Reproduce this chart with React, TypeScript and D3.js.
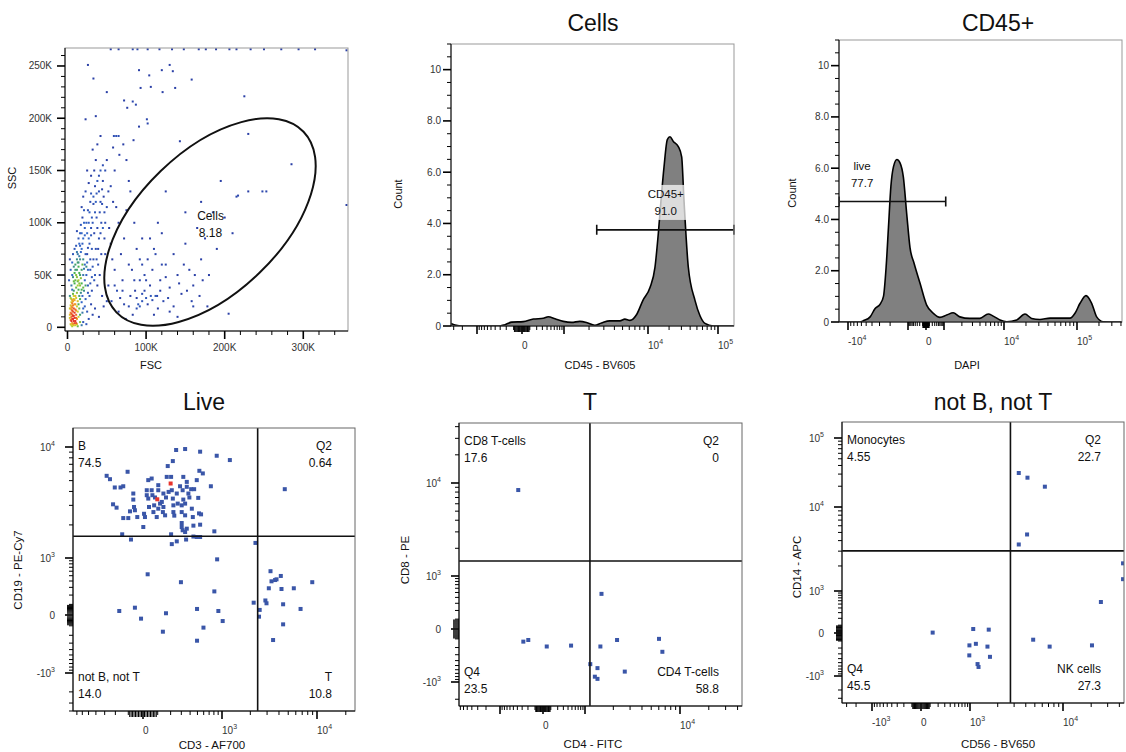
import React, { useEffect, useRef } from "react";
import * as d3 from "d3";

// ---------- data ----------
// FSC / SSC events (thousands)
const scatterEvents: [number, number][] = [
  [4, 3], [5, 6], [6, 4], [7, 8], [5, 10], [6, 12], [4, 14], [7, 15], [5, 17], [6, 19], [8, 11], [8, 18], [4, 21], [6, 23], [7, 25],
  [5, 27], [9, 14], [9, 22], [3, 9], [7, 3], [6, 8], [5, 13], [8, 6], [4, 18], [7, 21], [6, 16], [9, 9], [5, 24], [8, 27], [10, 17],
  [5, 2], [6, 1], [8, 2], [9, 4], [10, 2], [11, 9], [12, 3], [7, 11], [4, 7], [3, 12], [3, 18], [5, 20], [6, 26], [4, 28], [8, 30],
  [9, 26], [7, 32], [6, 36], [5, 40], [8, 44], [7, 48], [9, 52], [11, 50], [10, 60], [12, 65], [8, 58], [6, 62],
  [10, 30], [12, 33], [8, 35], [11, 38], [14, 36], [9, 42], [13, 44], [16, 40], [12, 48], [15, 52], [10, 55], [17, 47], [14, 58],
  [18, 55], [11, 28], [13, 25], [15, 30], [12, 20], [14, 22], [16, 27], [10, 45], [18, 42], [20, 50], [19, 60], [13, 62], [16, 65],
  [21, 56], [11, 12], [12, 8], [13, 15], [10, 6], [11, 4], [14, 10], [15, 18], [16, 12], [17, 33], [18, 24], [20, 38], [22, 45],
  [19, 30], [13, 70], [11, 78], [14, 85], [16, 90], [12, 92], [17, 98], [19, 105], [21, 112], [15, 68], [17, 72], [19, 80], [22, 88],
  [24, 100], [26, 112], [29, 120], [18, 115], [20, 125], [23, 130], [27, 138], [30, 145], [34, 150], [25, 150], [36, 160], [32, 170],
  [38, 175], [30, 128], [26, 76], [24, 58], [21, 35], [23, 27], [19, 14], [16, 5], [13, 1], [14, 45], [16, 50], [18, 36], [20, 18],
  [10, 22], [11, 16], [13, 40], [15, 42], [12, 55], [14, 62],
  [3, 30], [2, 45], [4, 55], [6, 50], [3, 65], [7, 70], [9, 75], [12, 72], [15, 80], [18, 75], [20, 85], [23, 70], [25, 90], [22, 95],
  [27, 100], [28, 80], [30, 88], [25, 62], [24, 50], [26, 40], [28, 30], [22, 20], [25, 15], [30, 22], [27, 8], [20, 5], [18, 2],
  [24, 3], [32, 12], [35, 18], [31, 35], [34, 45], [29, 55], [33, 65], [36, 75], [31, 105], [35, 110], [38, 95], [40, 85], [42, 120],
  [37, 128], [33, 118], [45, 140], [40, 145], [48, 150], [44, 132], [50, 160], [47, 110], [43, 100], [39, 60], [41, 50], [38, 40],
  [44, 30], [46, 20], [40, 10], [50, 25], [52, 40], [48, 70], [55, 80], [53, 95], [58, 120], [55, 135], [60, 150], [62, 115],
  [65, 100], [57, 65], [60, 55], [63, 35], [67, 28], [70, 45], [68, 70], [72, 85], [75, 112], [78, 140], [66, 165], [58, 172],
  [62, 183], [71, 175], [75, 160], [80, 130], [85, 100], [88, 75], [82, 55], [92, 45], [95, 60], [98, 35], [100, 28], [105, 40],
  [108, 55], [112, 30], [118, 45], [122, 25], [125, 60], [130, 38], [135, 70], [140, 50], [145, 32], [150, 80], [155, 55], [160, 40],
  [165, 95], [170, 65], [175, 85], [180, 50], [190, 75], [200, 105], [210, 90], [215, 125], [230, 130], [248, 130], [185, 110],
  [120, 90], [110, 75], [95, 85], [102, 65], [115, 18], [90, 22], [86, 35], [78, 20], [74, 8], [83, 12], [130, 15], [160, 20],
  [205, 13], [140, 10], [150, 110], [170, 120], [195, 140], [125, 130], [115, 100],
  [22, 60], [25, 70], [27, 85], [30, 95], [32, 100], [28, 110], [33, 125], [35, 135], [38, 140], [36, 120], [40, 130], [42, 150],
  [45, 155], [41, 110], [44, 118], [46, 125], [34, 90], [37, 105], [31, 75], [29, 65], [26, 55], [32, 58], [35, 50], [37, 65],
  [39, 75], [42, 90], [45, 95], [48, 100], [50, 115], [52, 130], [47, 85], [43, 70], [23, 40], [26, 33], [29, 42], [31, 48],
  [20, 65], [18, 90], [21, 100], [16, 78],
  [65, 15], [72, 22], [80, 30], [88, 18], [95, 25], [100, 45], [106, 30], [110, 12], [118, 35], [125, 48], [128, 28], [135, 20],
  [142, 42], [148, 60], [152, 35], [158, 25], [162, 50], [168, 30], [172, 45], [178, 20], [120, 60], [112, 70], [105, 85], [98, 50],
  [92, 65], [85, 45], [78, 60], [70, 35], [60, 40], [56, 25], [88, 28], [95, 32], [102, 22], [108, 26], [114, 30], [92, 20],
  [26, 251], [33, 238], [130, 251], [120, 246], [134, 245], [91, 246], [104, 241], [158, 237], [106, 230], [93, 229], [121, 225],
  [137, 229], [50, 225], [36, 202], [23, 199], [72, 217], [83, 216], [87, 213], [76, 210], [101, 199], [102, 195], [91, 192],
  [42, 183], [59, 183], [65, 183], [84, 179], [143, 178], [225, 221], [230, 185], [285, 156], [253, 130], [217, 126],
  [55, 266], [65, 266], [83, 266], [89, 266], [102, 266], [117, 266], [133, 266], [148, 266], [167, 266], [176, 266], [189, 266],
  [206, 266], [215, 266], [233, 266], [250, 266], [272, 266], [294, 266], [315, 266], [355, 265], [355, 117],
];
// ellipse gate: both ends of the long axis, and one end of the short axis
const cellsGateAxis: [number, number][] = [[62.3, 14.3], [300.3, 187.1]];
const cellsGateSide: [number, number] = [244, 51.9];
const cellsGateText = ["Cells", "8.18"];
const cellsGateTextAt: [number, number] = [182, 98.6];

// CD45 - BV605 histogram of Cells: [intensity, count]
const cd45Hist: [number, number][] = [
  [-3400, 0.1], [-2820, 0.04], [-1940, 0], [-305, 0], [-220, 0.05], [-125, 0.15], [16, 0.17], [150, 0.27], [318, 0.3],
  [430, 0.36], [625, 0.28], [965, 0.18], [1235, 0.14], [1550, 0.18], [1862, 0.14], [2340, 0.03], [2812, 0.12], [3532, 0.2],
  [4645, 0.2], [5320, 0.27], [6110, 0.22], [7340, 0.45], [8710, 1.0], [10680, 1.5], [12590, 2.3], [14030, 3.6], [15340, 4.9],
  [16930, 6.2], [18880, 7.27], [20610, 7.38], [23000, 7.2], [27100, 7.0], [30270, 6.6], [32670, 4.9], [37640, 2.3], [46900, 1.0],
  [55300, 0.4], [65200, 0.1], [85700, 0], [169000, 0],
];
const cd45Gate: [number, number, number] = [2470, 169000, 3.75];
const cd45GateText = ["CD45+", "91.0"];
const cd45GateTextAt: [number, number] = [17900, 4.82];

// DAPI histogram of CD45+
const dapiHist: [number, number][] = [
  [-13600, 0], [-6310, 0], [-5560, 0.05], [-4300, 0.2], [-3550, 0.53], [-2930, 0.7], [-2580, 1.0], [-2330, 2.15], [-2130, 3.7],
  [-1940, 5.3], [-1760, 6.05], [-1540, 6.34], [-1360, 6.2], [-1200, 5.66], [-1050, 4.2], [-785, 2.9], [-475, 2.3], [-185, 1.5],
  [19, 0.66], [240, 0.34], [612, 0.18], [1110, 0.27], [1430, 0.36], [1850, 0.2], [2710, 0.14], [3980, 0.14], [5480, 0.31],
  [6640, 0.23], [8580, 0.08], [10900, 0.01], [14900, 0.08], [19400, 0.31], [23900, 0.14], [31100, 0.1], [42700, 0.15],
  [80200, 0.15], [93900, 0.34], [110000, 0.73], [132800, 1.03], [158800, 0.73], [186000, 0.2], [229000, 0.01], [409000, 0],
];
const liveGate: [number, number, number] = [-14000, 1070, 4.7];
const liveGateText = ["live", "77.7"];
const liveGateTextAt: [number, number] = [-5840, 5.76];

const countTicks = [0, 2, 4, 6, 8, 10];
const countTickLabels = ["0", "2.0", "4.0", "6.0", "8.0", "10"];

// Live: [CD3 - AF700, CD19 - PE-Cy7]
const liveEvents: [number, number][] = [
  [249, 9400], [341, 9590], [541, 9080], [865, 8350], [1214, 7640], [219, 7480], [176, 6750], [529, 6120], [585, 5800], [-105, 6000],
  [-280, 5520], [-248, 5150], [168, 5400], [204, 5400], [321, 5400], [35, 5050], [58, 5220], [490, 5050], [104, 4550],
  [287, 4450], [360, 4870], [735, 4450], [-205, 4340], [-158, 4340], [-137, 4450], [25, 4100], [58, 4100], [104, 4100], [210, 4100],
  [314, 4100], [413, 4190], [453, 4190], [25, 3700], [63, 3700], [255, 3830], [379, 3830], [-65, 3830], [35, 3450], [81, 3530],
  [162, 3530], [219, 3450], [321, 3380], [391, 3530], [512, 3500], [-65, 3380], [117, 3110], [130, 3220], [224, 3000],
  [264, 3110], [341, 3110], [-220, 3065], [40, 2900], [-60, 2900], [142, 2900], [-190, 2860], [104, 2800], [422, 2800], [-54, 2710],
  [-88, 2650], [70, 2610], [304, 2610], [524, 2540], [556, 2490], [232, 2425], [341, 2440], [155, 2440], [7, 2520], [93, 2355],
  [-38, 2355], [435, 2355], [13, 2355], [-137, 2305], [-100, 2305], [2, 1915], [304, 2080], [304, 1915], [443, 1970], [541, 2010],
  [314, 1790], [341, 1725], [360, 1850], [810, 1750], [204, 1645], [-145, 1645], [443, 1570], [490, 1555], [541, 1555], [-81, 1475],
  [255, 1420], [352, 1475], [210, 1340], [183, 3960], [142, 3830], [360, 4400], [304, 3000], [75, 3000], [224, 2610], [138, 2610],
  [4600, 4190],
  [875, 950], [31, 530], [296, 380], [810, 245], [-168, 37], [-54, 68], [-13, -33], [162, 16], [494, 56], [905, 37], [1017, -55],
  [596, -118], [138, -160], [494, -267], [2265, 1374],
  [3260, 600], [3640, 417], [3340, 395], [4180, 495], [3770, 430], [8920, 380], [3130, 287], [4250, 277], [5720, 287], [2880, 140],
  [2960, 111], [2170, 117], [2510, 47], [2470, -15], [4420, 101], [6730, 56], [4420, -86], [3470, -258],
];
const liveHighlighted: [number, number][] = [[200, 4710], [97, 3400]];
const liveSplit: [number, number] = [2390, 1580];
const liveQuadNames = ["B", "Q2", "not B, not T", "T"];
const liveQuadPct = ["74.5", "0.64", "14.0", "10.8"];

// T: [CD4 - FITC, CD8 - PE]
const tEvents: [number, number][] = [
  [-380, 8410], [1500, 470], [-278, -130], [-195, -112], [47, -187], [476, -176], [1460, -187], [2190, -112], [6030, -100],
  [6540, -257], [1140, -470], [1360, -560], [1275, -804], [1360, -880], [2640, -650],
];
const tSplit: [number, number] = [1130, 1460];
const tQuadNames = ["CD8 T-cells", "Q2", "Q4", "CD4 T-cells"];
const tQuadPct = ["17.6", "0", "23.5", "58.8"];

// not B, not T: [CD56 - BV650, CD14 - APC]
const nbntEvents: [number, number][] = [
  [3365, 31100], [4170, 26600], [6400, 19700], [4130, 4730], [3365, 3600], [43800, 2150], [43800, 1390], [25400, 560],
  [4800, -83], [7200, -178], [20400, -160], [130, 5], [1085, 50], [1600, 42], [975, -160], [1160, -138], [1550, -178],
  [970, -330], [1650, -360], [1210, -540], [1240, -630],
];
const nbntSplit: [number, number] = [2740, 3020];
const nbntQuadNames = ["Monocytes", "Q2", "Q4", "NK cells"];
const nbntQuadPct = ["4.55", "22.7", "45.5", "27.3"];

// ---------- helpers ----------
const FONT = "'Liberation Sans', Arial, Helvetica, sans-serif";
const C = 250;
const tr = (v: number) => Math.asinh(v / C);

// logicle-like axis: anchors are [value, px offset from the axis origin]
function biexScale(anchors: [number, number][], origin: number, dir: number) {
  const lin = d3.scaleLinear()
    .domain(anchors.map(a => tr(a[0])))
    .range(anchors.map(a => origin + dir * a[1]));
  const f: any = (v: number) => lin(tr(v));
  f.invert = (p: number) => C * Math.sinh(lin.invert(p));
  return f;
}

function biexTicks(lo: number, hi: number) {
  const out = [{ v: 0, len: 8, w: 1.6 }];
  for (let k = 1; k <= 6; k++) {
    for (let m = 1; m <= 9; m++) {
      const v = m * Math.pow(10, k);
      const major = m === 1 && k >= 3;
      const mid = k === 1;
      for (const s of [v, -v]) {
        if (s > lo && s < hi) out.push({ v: s, len: major ? 8 : mid ? 6 : 4, w: major ? 1.6 : 1 });
      }
    }
  }
  return out;
}

function powLabel(g: any, v: number, x: number, y: number, anchor: string) {
  const t = g.append("text").attr("x", x).attr("y", y).attr("text-anchor", anchor)
    .attr("font-size", 10).attr("fill", "#333");
  if (v === 0) { t.text("0"); return; }
  const k = Math.round(Math.log10(Math.abs(v)));
  t.append("tspan").text((v < 0 ? "-" : "") + "10");
  t.append("tspan").attr("font-size", 7).attr("dy", -5).text(k);
}

function biexX(g: any, s: any, b: any, labels: number[]) {
  const bottom = b.y + b.h;
  const ticks = biexTicks(s.invert(b.x), s.invert(b.x + b.w));
  g.append("g").selectAll("line").data(ticks).join("line")
    .attr("x1", (d: any) => s(d.v)).attr("x2", (d: any) => s(d.v))
    .attr("y1", bottom).attr("y2", (d: any) => bottom + d.len)
    .attr("stroke", "#000").attr("stroke-width", (d: any) => d.w);
  labels.forEach(v => powLabel(g, v, s(v), bottom + 22.5, "start"));
}

function biexY(g: any, s: any, b: any, labels: number[]) {
  const ticks = biexTicks(s.invert(b.y + b.h), s.invert(b.y));
  g.append("g").selectAll("line").data(ticks).join("line")
    .attr("y1", (d: any) => s(d.v)).attr("y2", (d: any) => s(d.v))
    .attr("x1", b.x).attr("x2", (d: any) => b.x - d.len)
    .attr("stroke", "#000").attr("stroke-width", (d: any) => d.w);
  labels.forEach(v => powLabel(g, v, b.x - 18, s(v) + 3.5, "end"));
}

function frame(g: any, b: any, edge: string) {
  g.append("rect").attr("x", b.x).attr("y", b.y).attr("width", b.w).attr("height", b.h)
    .attr("fill", "none").attr("stroke", edge);
  g.append("line").attr("x1", b.x).attr("x2", b.x).attr("y1", b.y).attr("y2", b.y + b.h).attr("stroke", "#000");
  g.append("line").attr("x1", b.x).attr("x2", b.x + b.w).attr("y1", b.y + b.h).attr("y2", b.y + b.h).attr("stroke", "#000");
}

function textAt(g: any, s: string, x: number, y: number, size: number, anchor = "middle", rotate = false) {
  const t = g.append("text").attr("font-size", size).attr("fill", "#111").attr("text-anchor", anchor).text(s);
  if (rotate) t.attr("transform", `translate(${x},${y}) rotate(-90)`).attr("dominant-baseline", "central");
  else t.attr("x", x).attr("y", y);
  return t;
}

function histPanel(svg: any, b: any, xs: any, data: [number, number][], gate: number[], gateText: string[],
  gateTextAt: [number, number], box: boolean, id: string, xLabels: number[]) {
  const ys = d3.scaleLinear().domain([0, 11]).range([b.y + b.h, b.y]);
  const g = svg.append("g");
  svg.select("defs").append("clipPath").attr("id", id).append("rect")
    .attr("x", b.x).attr("y", b.y).attr("width", b.w).attr("height", b.h);
  const inner = g.append("g").attr("clip-path", `url(#${id})`);
  const area = d3.area<[number, number]>().x(d => xs(d[0])).y0(ys(0)).y1(d => ys(d[1])).curve(d3.curveMonotoneX);
  const line = d3.line<[number, number]>().x(d => xs(d[0])).y(d => ys(d[1])).curve(d3.curveMonotoneX);
  inner.append("path").attr("d", area(data)).attr("fill", "#808080");
  inner.append("path").attr("d", line(data)).attr("fill", "none").attr("stroke", "#000").attr("stroke-width", 1.6);

  // gate label
  const lx = xs(gateTextAt[0]), ly = ys(gateTextAt[1]);
  const lab = g.append("g");
  gateText.forEach((s, i) => textAt(lab, s, lx, ly - 4.5 + i * 17, 11.5));
  if (box) {
    const bb = (lab.node() as SVGGElement).getBBox();
    lab.insert("rect", "text").attr("x", bb.x - 2).attr("y", bb.y - 3).attr("width", bb.width + 4)
      .attr("height", bb.height + 6).attr("fill", "#fff").attr("opacity", 0.72);
  }
  // gate bar
  const gy = ys(gate[2]), gx0 = xs(gate[0]), gx1 = xs(gate[1]);
  g.append("path").attr("d", `M${gx0},${gy}H${gx1}M${gx0},${gy - 5}V${gy + 5}M${gx1},${gy - 5}V${gy + 5}`)
    .attr("stroke", "#111").attr("stroke-width", 1.6).attr("fill", "none");

  frame(g, b, "#999");
  // count axis
  const minors = d3.range(0.5, 11.01, 0.5).filter(v => v % 2 !== 0);
  g.append("g").selectAll("line").data(minors).join("line")
    .attr("x1", b.x).attr("x2", b.x - 4).attr("y1", (d: number) => ys(d)).attr("y2", (d: number) => ys(d))
    .attr("stroke", "#000");
  g.append("g").selectAll("line").data(countTicks).join("line")
    .attr("x1", b.x).attr("x2", b.x - 8).attr("y1", (d: number) => ys(d)).attr("y2", (d: number) => ys(d))
    .attr("stroke", "#000").attr("stroke-width", 1.6);
  countTicks.forEach((v, i) => g.append("text").attr("x", b.x - 10).attr("y", ys(v) + 3.5)
    .attr("text-anchor", "end").attr("font-size", 10).attr("fill", "#333").text(countTickLabels[i]));
  biexX(g, xs, b, xLabels);
  return g;
}

function quadPanel(svg: any, b: any, xs: any, ys: any, events: [number, number][], red: [number, number][],
  split: [number, number], names: string[], pcts: string[], id: string, xLabels: number[], yLabels: number[]) {
  const g = svg.append("g");
  svg.select("defs").append("clipPath").attr("id", id).append("rect")
    .attr("x", b.x).attr("y", b.y).attr("width", b.w).attr("height", b.h);
  const inner = g.append("g").attr("clip-path", `url(#${id})`);
  inner.selectAll("rect.ev").data(events).join("rect").attr("class", "ev")
    .attr("x", (d: any) => xs(d[0]) - 2).attr("y", (d: any) => ys(d[1]) - 2)
    .attr("width", 4).attr("height", 4).attr("fill", "#3a56a8");
  inner.selectAll("rect.hi").data(red).join("rect").attr("class", "hi")
    .attr("x", (d: any) => xs(d[0]) - 2).attr("y", (d: any) => ys(d[1]) - 2)
    .attr("width", 4).attr("height", 4).attr("fill", "#e8342c");
  const vx = xs(split[0]), hy = ys(split[1]);
  inner.append("line").attr("x1", vx).attr("x2", vx).attr("y1", b.y).attr("y2", b.y + b.h)
    .attr("stroke", "#111").attr("stroke-width", 1.6);
  inner.append("line").attr("x1", b.x).attr("x2", b.x + b.w).attr("y1", hy).attr("y2", hy)
    .attr("stroke", "#111").attr("stroke-width", 1.6);
  frame(g, b, "#666");
  const L = b.x + 5, R = b.x + b.w - 23, T = b.y + 22, B = b.y + b.h - 30;
  [[L, T, "start"], [R, T, "end"], [L, B, "start"], [R, B, "end"]].forEach(([x, y, a], i) => {
    textAt(g, names[i], x as number, y as number, 12, a as string);
    textAt(g, pcts[i], x as number, (y as number) + 16.5, 12, a as string);
  });
  biexX(g, xs, b, xLabels);
  biexY(g, ys, b, yLabels);
  return g;
}

export default function App() {
  const ref = useRef<SVGSVGElement | null>(null);

  useEffect(() => {
    document.body.style.margin = "0";
    const svg = d3.select(ref.current);
    svg.selectAll("*").remove();
    svg.append("defs");
    svg.append("rect").attr("width", 1126).attr("height", 752).attr("fill", "#fff");

    // ---- FSC / SSC ----
    const b1 = { x: 65, y: 48, w: 283, h: 283 };
    const x1 = d3.scaleLinear().domain([-3.18, 356.9]).range([b1.x, b1.x + b1.w]);
    const y1 = d3.scaleLinear().domain([-3.54, 267.2]).range([b1.y + b1.h, b1.y]);
    const g1 = svg.append("g");
    svg.select("defs").append("clipPath").attr("id", "c1").append("rect")
      .attr("x", b1.x).attr("y", b1.y).attr("width", b1.w).attr("height", b1.h);
    const pts = scatterEvents.map(([f, s]) => ({ x: x1(f), y: y1(s) }));
    const dens = pts.map(p => pts.filter(q => Math.hypot(q.x - p.x, q.y - p.y) < 6).length);
    const col = d3.scaleLinear<string>().domain([1, 6, 10, 14, 18, 22])
      .range(["#2a3fa6", "#3468c8", "#46b150", "#cfd32c", "#f29a28", "#e5352a"]).clamp(true);
    const order = d3.range(pts.length).sort((a, b) => dens[a] - dens[b]);
    g1.append("g").attr("clip-path", "url(#c1)").selectAll("rect").data(order).join("rect")
      .attr("x", (i: number) => pts[i].x - 1).attr("y", (i: number) => pts[i].y - 1)
      .attr("width", 2).attr("height", 2).attr("fill", (i: number) => col(dens[i]));

    const [e1, e2] = cellsGateAxis.map(([f, s]) => [x1(f), y1(s)]);
    const ecx = (e1[0] + e2[0]) / 2, ecy = (e1[1] + e2[1]) / 2;
    const erx = Math.hypot(e2[0] - e1[0], e2[1] - e1[1]) / 2;
    const ery = Math.hypot(x1(cellsGateSide[0]) - ecx, y1(cellsGateSide[1]) - ecy);
    const eang = Math.atan2(e2[1] - e1[1], e2[0] - e1[0]) * 180 / Math.PI;
    g1.append("ellipse").attr("cx", ecx).attr("cy", ecy).attr("rx", erx).attr("ry", ery)
      .attr("transform", `rotate(${eang} ${ecx} ${ecy})`)
      .attr("fill", "none").attr("stroke", "#111").attr("stroke-width", 2);
    cellsGateText.forEach((s, i) =>
      textAt(g1, s, x1(cellsGateTextAt[0]), y1(cellsGateTextAt[1]) - 4.5 + i * 17, 12));

    frame(g1, b1, "#999");
    const yMaj = d3.range(0, 251, 50), yMin = d3.range(10, 261, 10).filter(v => v % 50 !== 0);
    const xMaj = d3.range(0, 301, 100), xMin = d3.range(20, 341, 20).filter(v => v % 100 !== 0);
    const bot1 = b1.y + b1.h;
    g1.append("g").selectAll("line").data(yMin).join("line")
      .attr("x1", b1.x).attr("x2", b1.x - 4).attr("y1", (d: number) => y1(d)).attr("y2", (d: number) => y1(d)).attr("stroke", "#000");
    g1.append("g").selectAll("line").data(yMaj).join("line")
      .attr("x1", b1.x).attr("x2", b1.x - 8).attr("y1", (d: number) => y1(d)).attr("y2", (d: number) => y1(d))
      .attr("stroke", "#000").attr("stroke-width", 1.6);
    g1.append("g").selectAll("line").data(xMin).join("line")
      .attr("y1", bot1).attr("y2", bot1 + 4).attr("x1", (d: number) => x1(d)).attr("x2", (d: number) => x1(d)).attr("stroke", "#000");
    g1.append("g").selectAll("line").data(xMaj).join("line")
      .attr("y1", bot1).attr("y2", bot1 + 8).attr("x1", (d: number) => x1(d)).attr("x2", (d: number) => x1(d))
      .attr("stroke", "#000").attr("stroke-width", 1.6);
    const kfmt = (d: number) => (d === 0 ? "0" : `${d}K`);
    yMaj.forEach(v => g1.append("text").attr("x", b1.x - 13).attr("y", y1(v) + 3.5).attr("text-anchor", "end")
      .attr("font-size", 10).attr("fill", "#333").text(kfmt(v)));
    xMaj.forEach(v => g1.append("text").attr("x", x1(v)).attr("y", bot1 + 19.5).attr("text-anchor", "middle")
      .attr("font-size", 10).attr("fill", "#333").text(kfmt(v)));
    textAt(g1, "SSC", 12, 178, 11, "middle", true);
    textAt(g1, "FSC", 151, 369, 11);

    // ---- Cells: CD45 histogram ----
    const b2 = { x: 451, y: 44, w: 283, h: 282 };
    const x2 = biexScale([[-1e3, 26], [0, 71], [1e3, 113], [1e4, 197], [1e5, 267]], b2.x, 1);
    const g2 = histPanel(svg, b2, x2, cd45Hist, cd45Gate, cd45GateText, cd45GateTextAt, true, "c2", [0, 1e4, 1e5]);
    textAt(g2, "Cells", 593, 31, 23);
    textAt(g2, "Count", 398, 194, 11, "middle", true);
    textAt(g2, "CD45 - BV605", 600, 369, 11);

    // ---- CD45+: DAPI histogram ----
    const b3 = { x: 839, y: 40, w: 283, h: 282 };
    const x3 = biexScale([[-1e4, 9], [-1e3, 69], [0, 87], [1e3, 105], [1e4, 165], [1e5, 238]], b3.x, 1);
    const g3 = histPanel(svg, b3, x3, dapiHist, liveGate, liveGateText, liveGateTextAt, false, "c3", [-1e4, 0, 1e4, 1e5]);
    textAt(g3, "CD45+", 998, 31, 23);
    textAt(g3, "Count", 792, 193, 11, "middle", true);
    textAt(g3, "DAPI", 967, 369, 11);

    // ---- Live ----
    const b4 = { x: 73, y: 428, w: 282, h: 283 };
    const x4 = biexScale([[-1e3, -9], [0, 70], [1e3, 149], [1e4, 244]], b4.x, 1);
    const y4 = biexScale([[-1e3, 38], [0, 96], [1e3, 153], [1e4, 264]], b4.y + b4.h, -1);
    const g4 = quadPanel(svg, b4, x4, y4, liveEvents, liveHighlighted, liveSplit, liveQuadNames, liveQuadPct, "c4",
      [0, 1e3, 1e4], [-1e3, 0, 1e3, 1e4]);
    textAt(g4, "Live", 204, 410, 23);
    textAt(g4, "CD19 - PE-Cy7", 18, 570, 11.5, "middle", true);
    textAt(g4, "CD3 - AF700", 212, 749, 11.5);

    // ---- T ----
    const b5 = { x: 459, y: 423, w: 283, h: 283 };
    const x5 = biexScale([[-1e3, 41], [0, 84], [1e3, 126], [1e4, 221]], b5.x, 1);
    const y5 = biexScale([[-1e3, 24], [0, 77], [1e3, 130], [1e4, 223]], b5.y + b5.h, -1);
    const g5 = quadPanel(svg, b5, x5, y5, tEvents, [], tSplit, tQuadNames, tQuadPct, "c5",
      [0, 1e4], [-1e3, 0, 1e3, 1e4]);
    textAt(g5, "T", 590, 410, 23);
    textAt(g5, "CD8 - PE", 405, 560, 11.5, "middle", true);
    textAt(g5, "CD4 - FITC", 593, 748, 11.5);

    // ---- not B, not T ----
    const b6 = { x: 842, y: 422, w: 282, h: 281 };
    const x6 = biexScale([[-1e3, 30], [0, 79], [1e3, 128], [1e4, 221]], b6.x, 1);
    const y6 = biexScale([[-1e3, 27], [0, 70], [1e3, 112], [1e4, 196], [1e5, 265]], b6.y + b6.h, -1);
    const g6 = quadPanel(svg, b6, x6, y6, nbntEvents, [], nbntSplit, nbntQuadNames, nbntQuadPct, "c6",
      [-1e3, 0, 1e3, 1e4], [-1e3, 0, 1e3, 1e4, 1e5]);
    textAt(g6, "not B, not T", 993, 410, 23);
    textAt(g6, "CD14 - APC", 797, 567, 11.5, "middle", true);
    textAt(g6, "CD56 - BV650", 998, 748, 11.5);
  }, []);

  return (
    <svg
      ref={ref}
      width={1126}
      height={752}
      style={{ position: "absolute", left: 0, top: 0, fontFamily: FONT }}
    />
  );
}
